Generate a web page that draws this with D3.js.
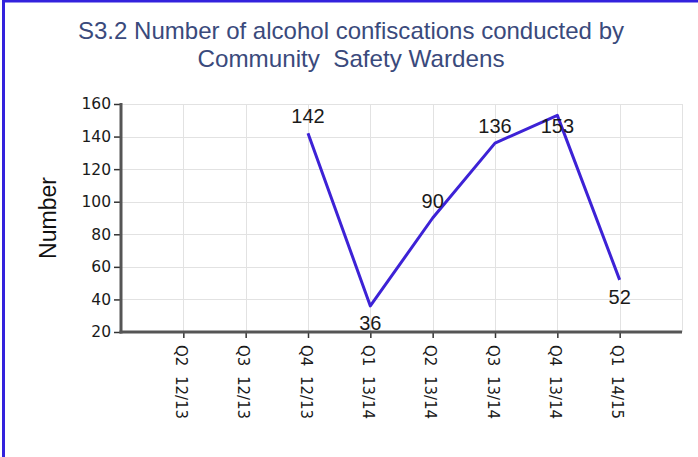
<!DOCTYPE html>
<html>
<head>
<meta charset="utf-8">
<script src="https://cdn.jsdelivr.net/npm/d3@7"></script>
<style>
  html, body { margin: 0; padding: 0; background: #fff; }
  svg { display: block; }
</style>
</head>
<body>
<svg id="chart" width="698" height="457"></svg>
<script>
// chart data
const categories = ["Q2  12/13", "Q3  12/13", "Q4  12/13", "Q1  13/14", "Q2  13/14", "Q3  13/14", "Q4  13/14", "Q1  14/15"];
const values = [null, null, 142, 36, 90, 136, 153, 52];
const yTicks = [20, 40, 60, 80, 100, 120, 140, 160];
const titleLines = ["S3.2 Number of alcohol confiscations conducted by", "Community  Safety Wardens"];
const yLabel = "Number";

const W = 698, H = 457;
const plotL = 121, plotR = 682, plotT = 104, plotB = 332;

const svg = d3.select("#chart");

// blue frame
svg.append("rect").attr("x", 3.5).attr("y", 1).attr("width", W + 10).attr("height", H + 10)
    .attr("fill", "none").attr("stroke", "#3322dd").attr("stroke-width", 3);

const x = d3.scalePoint().domain(categories).range([plotL, plotR]).padding(1);
const y = d3.scaleLinear().domain([20, 160]).range([plotB, plotT]);

// grid
const grid = svg.append("g").attr("stroke", "#e2e2e2").attr("stroke-width", 1);
grid.selectAll("line.h")
    .data(yTicks.slice(1))
    .join("line")
    .attr("class", "h")
    .attr("x1", plotL).attr("x2", plotR)
    .attr("y1", d => Math.round(y(d)) + 0.5).attr("y2", d => Math.round(y(d)) + 0.5);
grid.selectAll("line.v")
    .data(categories.map(c => x(c)).concat([plotR]))
    .join("line")
    .attr("class", "v")
    .attr("x1", d => Math.round(d) + 0.5).attr("x2", d => Math.round(d) + 0.5)
    .attr("y1", plotT).attr("y2", plotB);

// y axis
const yAxis = svg.append("g")
    .attr("transform", `translate(${plotL},0)`)
    .call(d3.axisLeft(y).tickValues(yTicks).tickSize(7).tickPadding(3));
yAxis.select(".domain").remove();
yAxis.selectAll(".tick line").attr("stroke", "#333").attr("stroke-width", 1.5);
yAxis.selectAll(".tick text")
    .attr("font-family", "DejaVu Sans, sans-serif").attr("font-size", 15.5)
    .attr("fill", "#1a1a1a");

// x axis
const xAxis = svg.append("g")
    .attr("transform", `translate(0,${plotB})`)
    .call(d3.axisBottom(x).tickSize(6).tickPadding(0));
xAxis.select(".domain").remove();
xAxis.selectAll(".tick line").attr("stroke", "#333").attr("stroke-width", 1.5);
xAxis.selectAll(".tick text")
    .attr("font-family", "DejaVu Sans, sans-serif").attr("font-size", 15)
    .attr("fill", "#1a1a1a")
    .attr("text-anchor", "start")
    .attr("dy", null)
    .attr("y", 0)
    .style("white-space", "pre")
    .attr("transform", "translate(-8,13) rotate(90)");

// axis lines (thick)
svg.append("line").attr("x1", plotL).attr("x2", plotL).attr("y1", plotT - 1).attr("y2", plotB + 1.5)
    .attr("stroke", "#555").attr("stroke-width", 3);
svg.append("line").attr("x1", plotL - 1.5).attr("x2", plotR).attr("y1", plotB).attr("y2", plotB)
    .attr("stroke", "#555").attr("stroke-width", 3);

// series line
const pts = categories.map((c, i) => ({ c, v: values[i], i })).filter(d => d.v != null);
const line = d3.line().x(d => x(d.c)).y(d => y(d.v));
svg.append("path")
    .datum(pts)
    .attr("d", line)
    .attr("fill", "none")
    .attr("stroke", "#3d22d6")
    .attr("stroke-width", 3)
    .attr("stroke-linejoin", "round");

// value labels: some sit under their point
const below = new Set([3, 6, 7]);
svg.append("g").selectAll("text")
    .data(pts)
    .join("text")
    .attr("x", d => x(d.c))
    .attr("y", d => y(d.v) + (below.has(d.i) ? (d.i === 6 ? 18 : 24) : -10))
    .attr("text-anchor", "middle")
    .attr("font-family", "Liberation Sans, Arial, sans-serif")
    .attr("font-size", 20)
    .attr("fill", "#1a1a1a")
    .text(d => d.v);

// title
svg.append("g").selectAll("text")
    .data(titleLines)
    .join("text")
    .attr("x", 351)
    .attr("y", (d, i) => 39 + i * 28)
    .attr("text-anchor", "middle")
    .attr("font-family", "Liberation Sans, Arial, sans-serif")
    .attr("font-size", 24)
    .attr("fill", "#3a4a7c")
    .attr("textLength", (d, i) => i === 0 ? 546 : 307)
    .attr("lengthAdjust", "spacingAndGlyphs")
    .style("white-space", "pre")
    .text(d => d);

// y label
svg.append("text")
    .attr("transform", `translate(56,${(plotT + plotB) / 2}) rotate(-90)`)
    .attr("text-anchor", "middle")
    .attr("font-family", "Liberation Sans, Arial, sans-serif")
    .attr("font-size", 23)
    .attr("fill", "#111")
    .text(yLabel);
</script>
</body>
</html>
